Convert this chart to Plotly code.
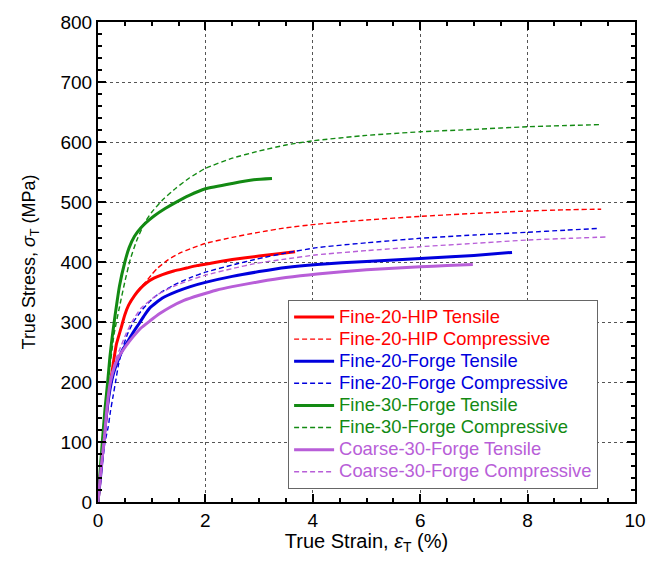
import plotly.graph_objects as go

# Fine-20-HIP Tensile
hip_t_x = [0, 0.04, 0.09, 0.15, 0.2, 0.25, 0.3, 0.34, 0.43, 0.5, 0.57, 0.68, 0.79, 0.9, 1.04, 1.2, 1.41, 1.65, 1.84, 2.1, 2.5, 3.0, 3.4, 3.67]
hip_t_y = [0, 40, 90, 140, 180, 210, 240, 262, 290, 312, 328, 344, 356, 365, 373, 379, 385, 390, 394, 398, 404, 410, 414, 417]
# Fine-20-HIP Compressive
hip_c_x = [0, 0.04, 0.09, 0.15, 0.2, 0.25, 0.3, 0.34, 0.43, 0.5, 0.57, 0.68, 0.79, 0.9, 1.0, 1.1, 1.31, 1.55, 1.72, 2.0, 2.5, 2.96, 3.5, 4.08, 5.0, 6.0, 7.0, 8.0, 8.7, 9.37]
hip_c_y = [0, 40, 90, 140, 180, 210, 240, 262, 290, 312, 328, 344, 357, 368, 379, 389, 404, 416, 422, 431, 441, 449, 457, 463, 470, 476, 481, 485, 487, 488]
# Fine-20-Forge Tensile
f20_t_x = [0, 0.05, 0.1, 0.15, 0.2, 0.25, 0.3, 0.36, 0.45, 0.57, 0.68, 0.77, 0.87, 0.97, 1.2, 1.47, 1.72, 2.0, 2.5, 3.0, 3.5, 4.08, 5.0, 6.0, 7.0, 7.71]
f20_t_y = [0, 45, 95, 140, 175, 200, 218, 233, 252, 270, 286, 298, 312, 324, 340, 351, 359, 366, 376, 384, 391, 396, 401, 406, 411, 416]
# Fine-20-Forge Compressive
f20_c_x = [0, 0.04, 0.08, 0.13, 0.19, 0.23, 0.28, 0.33, 0.38, 0.45, 0.55, 0.66, 0.8, 0.95, 1.1, 1.4, 1.72, 2.0, 2.5, 2.96, 3.5, 4.08, 5.0, 6.0, 7.0, 8.0, 8.7, 9.33]
f20_c_y = [0, 30, 65, 100, 125, 150, 176, 202, 228, 254, 280, 300, 318, 333, 345, 361, 374, 383, 395, 405, 415, 424, 432, 439.5, 445, 449.5, 453, 456]
# Fine-30-Forge Tensile
f30_t_x = [0, 0.03, 0.08, 0.13, 0.18, 0.22, 0.26, 0.32, 0.4, 0.5, 0.58, 0.68, 0.8, 0.9, 1.05, 1.25, 1.44, 1.7, 2.0, 2.5, 2.9, 3.24]
f30_t_y = [0, 40, 100, 155, 200, 240, 272, 312, 360, 400, 424, 443, 457, 466, 477, 489, 499, 511, 522, 531, 537, 539]
# Fine-30-Forge Compressive
f30_c_x = [0, 0.04, 0.1, 0.19, 0.3, 0.4, 0.5, 0.6, 0.73, 0.88, 1.0, 1.22, 1.45, 1.7, 2.0, 2.5, 3.0, 3.5, 4.0, 5.0, 6.0, 7.0, 8.0, 9.36]
f30_c_y = [0, 40, 100, 200, 280, 325, 367, 404, 438, 467, 483, 505, 523, 540, 556, 573, 585, 595, 602, 611, 617, 621, 625.5, 629]
# Coarse-30-Forge Tensile
c30_t_x = [0, 0.04, 0.08, 0.12, 0.16, 0.22, 0.27, 0.33, 0.4, 0.48, 0.57, 0.66, 0.8, 0.97, 1.15, 1.35, 1.6, 1.9, 2.2, 2.5, 3.0, 3.5, 4.08, 5.0, 6.0, 6.5, 6.98]
c30_t_y = [0, 40, 75, 108, 150, 195, 215, 231, 244, 255, 266, 276, 290, 302, 314, 325, 336, 345, 353, 359, 367, 374, 380, 387, 392, 394, 396]
# Coarse-30-Forge Compressive
c30_c_x = [0, 0.04, 0.08, 0.12, 0.16, 0.22, 0.28, 0.34, 0.42, 0.52, 0.63, 0.8, 1.1, 1.4, 1.72, 2.0, 2.5, 2.96, 3.5, 4.08, 5.0, 6.0, 7.0, 8.0, 8.8, 9.45]
c30_c_y = [0, 40, 75, 108, 150, 195, 222, 240, 258, 280, 300, 323, 345, 359, 370, 378, 389, 398, 405, 412, 419, 425.5, 431, 436.7, 439.5, 441.7]

RED = "#ff0000"
BLUE = "#0000dd"
GREEN = "#138a13"
PURPLE = "#b85ed8"

series = [
    ("Fine-20-HIP Tensile", hip_t_x, hip_t_y, RED, "solid"),
    ("Fine-20-HIP Compressive", hip_c_x, hip_c_y, RED, "dash"),
    ("Fine-20-Forge Tensile", f20_t_x, f20_t_y, BLUE, "solid"),
    ("Fine-20-Forge Compressive", f20_c_x, f20_c_y, BLUE, "dash"),
    ("Fine-30-Forge Tensile", f30_t_x, f30_t_y, GREEN, "solid"),
    ("Fine-30-Forge Compressive", f30_c_x, f30_c_y, GREEN, "dash"),
    ("Coarse-30-Forge Tensile", c30_t_x, c30_t_y, PURPLE, "solid"),
    ("Coarse-30-Forge Compressive", c30_c_x, c30_c_y, PURPLE, "dash"),
]

fig = go.Figure()
for name, xs, ys, col, style in series:
    fig.add_trace(go.Scatter(
        x=xs, y=ys, mode="lines",
        name=f"<span style='color:{col};font-size:18.4px'>{name}</span>",
        line=dict(color=col, width=3 if style == "solid" else 1.4,
                  dash="solid" if style == "solid" else "5px,3px",
                  shape="spline", smoothing=0.5),
    ))

FONT = "Arial, Liberation Sans, Helvetica, sans-serif"
axis_common = dict(
    showline=True, linecolor="black", linewidth=2, mirror="allticks",
    ticks="inside", ticklen=8, tickwidth=1.5, tickcolor="black",
    showgrid=True, gridcolor="#555555", griddash="dot", gridwidth=1,
    zeroline=False, automargin=False,
    tickfont=dict(family=FONT, size=19, color="black"),
)

fig.update_xaxes(
    range=[0, 10], dtick=2, tick0=0,
    minor=dict(dtick=0.5, ticks="inside", ticklen=4, tickcolor="black", showgrid=False),
    title=dict(text="True Strain, <i>ε</i><sub>T</sub> (%)", font=dict(family=FONT, size=20, color="black"), standoff=11),
    **axis_common,
)
fig.update_yaxes(
    range=[0, 800], dtick=100, tick0=0,
    minor=dict(dtick=20, ticks="inside", ticklen=4, tickcolor="black", showgrid=False),
    title=dict(text="True Stress, <i>σ</i><sub>T</sub> (MPa)", font=dict(family=FONT, size=18, color="black"), standoff=20),
    **axis_common,
)

# page body has an 8px margin, so the figure is sized/offset to compensate
fig.update_layout(
    width=643, height=547,
    margin=dict(l=90, r=16, t=14, b=53),
    paper_bgcolor="white", plot_bgcolor="white",
    showlegend=True,
    legend=dict(
        x=0.354, y=0.421, xanchor="left", yanchor="top",
        bgcolor="white", bordercolor="#666666", borderwidth=1,
        font=dict(family=FONT, size=14.7),
        tracegroupgap=0, itemwidth=40,
    ),
)

fig.write_html("out.html")
